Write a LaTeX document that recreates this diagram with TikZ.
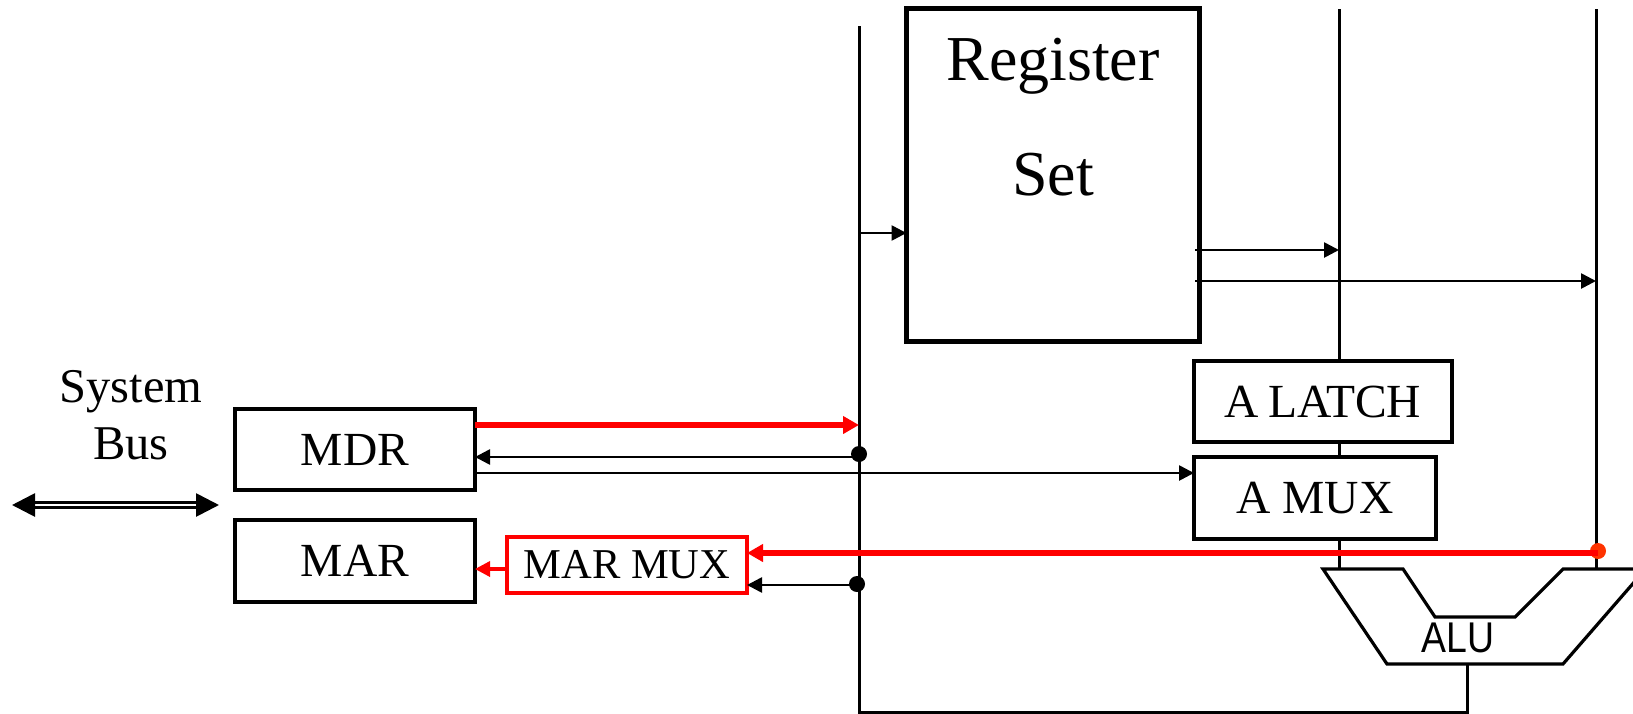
\documentclass[tikz,border=0pt]{standalone}
\usepackage{fontspec}
\setmainfont{Liberation Serif}
\setsansfont{Liberation Sans}
\usetikzlibrary{arrows.meta}
\newcommand{\fsz}[1]{\fontsize{#1}{#1}\selectfont}
\definecolor{dotred}{HTML}{FF3300}
\tikzset{
  every node/.style={outer sep=0pt, inner sep=0pt},
  boxn/.style={draw=black, line width=3.6pt, fill=white, font=\fsz{47.5}},
  wire/.style={draw=black, line width=3pt},
  thinarrow/.style={draw=black, line width=2.6pt, -{Triangle[length=15pt,width=15pt]}},
  redarrow/.style={draw=red, line width=5.4pt, -{Triangle[length=16pt,width=17pt]}},
  redthin/.style={draw=red, line width=3.4pt, -{Triangle[length=15pt,width=15pt]}},
  dotn/.style={circle, fill=black, minimum size=16pt},
  lab/.style={font=\fsz{48.5}},
}
\begin{document}
\begin{tikzpicture}[x=1pt,y=-1pt]
\useasboundingbox (0,0) rectangle (1633,713);
\clip (0,0) rectangle (1633,713);
% bus wires
\coordinate (lt) at (859,26);
\coordinate (lb) at (859,712.5);
\coordinate (mt) at (1339,9);
\coordinate (mb) at (1339,569);
\coordinate (rt) at (1596,9);
\coordinate (rb) at (1596,569);
\coordinate (aluout) at (1467,664);
\coordinate (alubot) at (1467,712.5);
\draw[wire] (lt) -- (lb) -- (alubot) -- (aluout);
\draw[wire] (mt) -- (mb);
\draw[wire] (rt) -- (rb);
% boxes
\node[boxn, line width=5pt, minimum width=293pt, minimum height=333pt] (reg) at (1053,174.5) {};
\node[font=\fsz{64}] (regt1) at (1053,66) {Register};
\node[font=\fsz{64}] (regt2) at (1053,175) {Set};
\node[boxn, minimum width=258pt, minimum height=81pt] (alatch) at (1323,401.5) {A\kern-3pt\ LATCH};
\node[boxn, minimum width=242pt, minimum height=82pt] (amux) at (1315,498) {A MUX};
\node[boxn, minimum width=240pt, minimum height=81pt] (mdr) at (355,449.5) {MDR};
\node[boxn, minimum width=240pt, minimum height=82pt] (mar) at (355,561) {MAR};
\node[boxn, draw=red, font=\fsz{42.5}, minimum width=240pt, minimum height=56pt] (marmux) at (627,565) {MAR MUX};
% ALU
\draw[line width=3.2pt, line join=miter, fill=white] (1323,569) -- (1403,569) -- (1435,617) -- (1515,617) -- (1563,569) -- (1650,569) -- (1643,572) -- (1563,664) -- (1387,664) -- cycle;
\node[font=\sffamily\fsz{43}, xscale=.87] (alu) at (1458,638) {ALU};
% labels
\node[lab] (sys) at (131,392) {System};
\node[lab] (bus) at (131,444) {Bus};
% system bus
\coordinate (busl) at (12,505);
\coordinate (busr) at (219,505);
\draw[line width=2.8pt, double, double distance=2.4pt, {Triangle[length=23pt,width=23pt]}-{Triangle[length=23pt,width=23pt]}] (busl) -- (busr);
% junctions
\node[dotn] (j1) at (859,454) {};
\node[dotn] (j2) at (857,584) {};
\node[circle, fill=dotred, minimum size=16pt] (j3) at (1598,551) {};
% connectors
\coordinate (c1) at (859,233);
\draw[thinarrow] (c1) -- (reg.west |- c1);
\coordinate (c2) at (1195,250);
\draw[thinarrow] (c2) -- (mt |- c2);
\coordinate (c3) at (1195,281);
\draw[thinarrow] (c3) -- (rt |- c3);
\coordinate (c4) at (0,425);
\draw[redarrow] (mdr.east |- c4) -- (lt |- c4);
\coordinate (c5) at (0,457);
\draw[thinarrow] (lt |- c5) -- (mdr.east |- c5);
\coordinate (c6) at (0,473);
\draw[thinarrow] (mdr.east |- c6) -- (amux.west |- c6);
\coordinate (c7) at (0,553);
\draw[redarrow] (j3.center |- c7) -- (marmux.east |- c7);
\coordinate (c8) at (0,585);
\draw[thinarrow] (j2.center |- c8) -- (marmux.east |- c8);
\coordinate (c9) at (0,569);
\draw[redthin] (marmux.west |- c9) -- (mar.east |- c9);
\end{tikzpicture}
\end{document}
